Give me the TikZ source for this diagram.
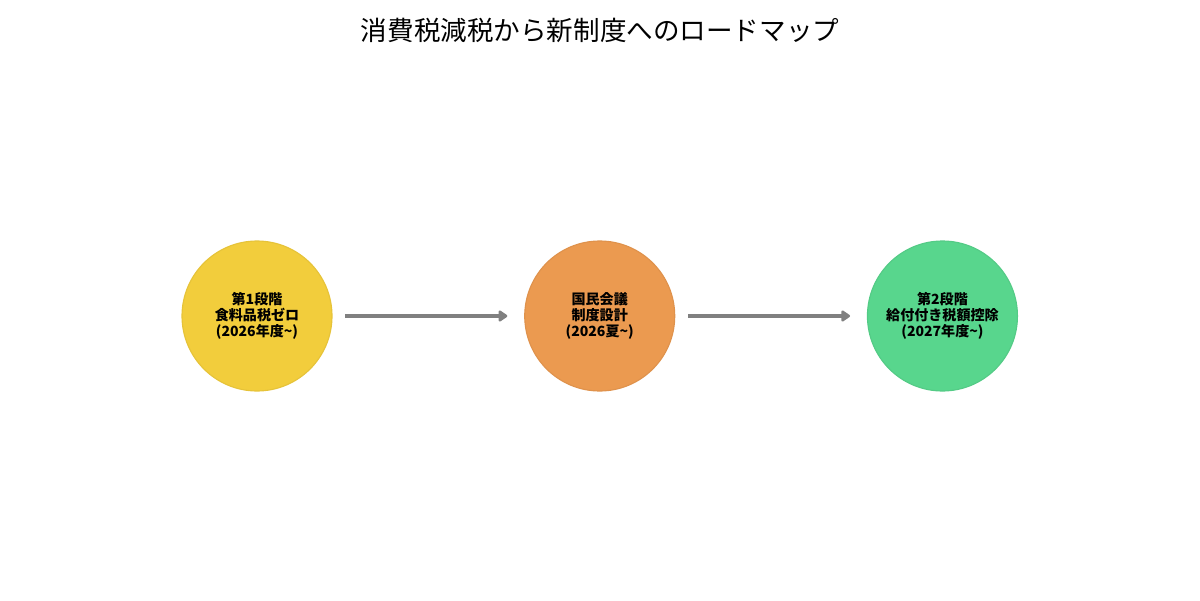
\documentclass[tikz,border=0pt]{standalone}
\usepackage{fontspec}
\usepackage{xcolor}
\usepackage{tikz}
\usetikzlibrary{shapes,arrows,positioning,calc,arrows.meta}
\newfontfamily\jpfont{Noto Sans CJK JP}
\setmainfont{Noto Sans CJK JP}

\definecolor{stageone}{HTML}{F2CD3C}
\definecolor{stagemid}{HTML}{EB9A50}
\definecolor{stagetwo}{HTML}{58D68D}
\definecolor{flowgray}{HTML}{808080}

\tikzset{
    stage/.style={circle, minimum size=3.75cm, inner sep=0pt, align=center,
        font=\jpfont\bfseries\fontsize{10}{11.6}\selectfont, line width=0.8pt},
    flow/.style={draw=flowgray, line width=2.8pt,
        -{Triangle[length=7pt,width=9pt,round]}, shorten <=0.32cm, shorten >=0.42cm}
}

\begin{document}
\begin{tikzpicture}
    \useasboundingbox (0,0) rectangle (30,15);
    % Title
    \node (title) at (15,14.25) {\jpfont\fontsize{18.9}{22}\selectfont 消費税減税から新制度へのロードマップ};
    % Stages
    \node[stage, fill=stageone, draw=stageone!95!black] (s1) at (6.425,7.1) {第1段階\\食料品税ゼロ\\(2026年度\textasciitilde)};
    \node[stage, fill=stagemid, draw=stagemid!95!black, right=4.79cm of s1] (s2) {国民会議\\制度設計\\(2026夏\textasciitilde)};
    \node[stage, fill=stagetwo, draw=stagetwo!95!black, right=4.79cm of s2] (s3) {第2段階\\給付付き税額控除\\(2027年度\textasciitilde)};
    % Arrows
    \draw[flow] (s1) -- (s2);
    \draw[flow] (s2) -- (s3);
\end{tikzpicture}
\end{document}
